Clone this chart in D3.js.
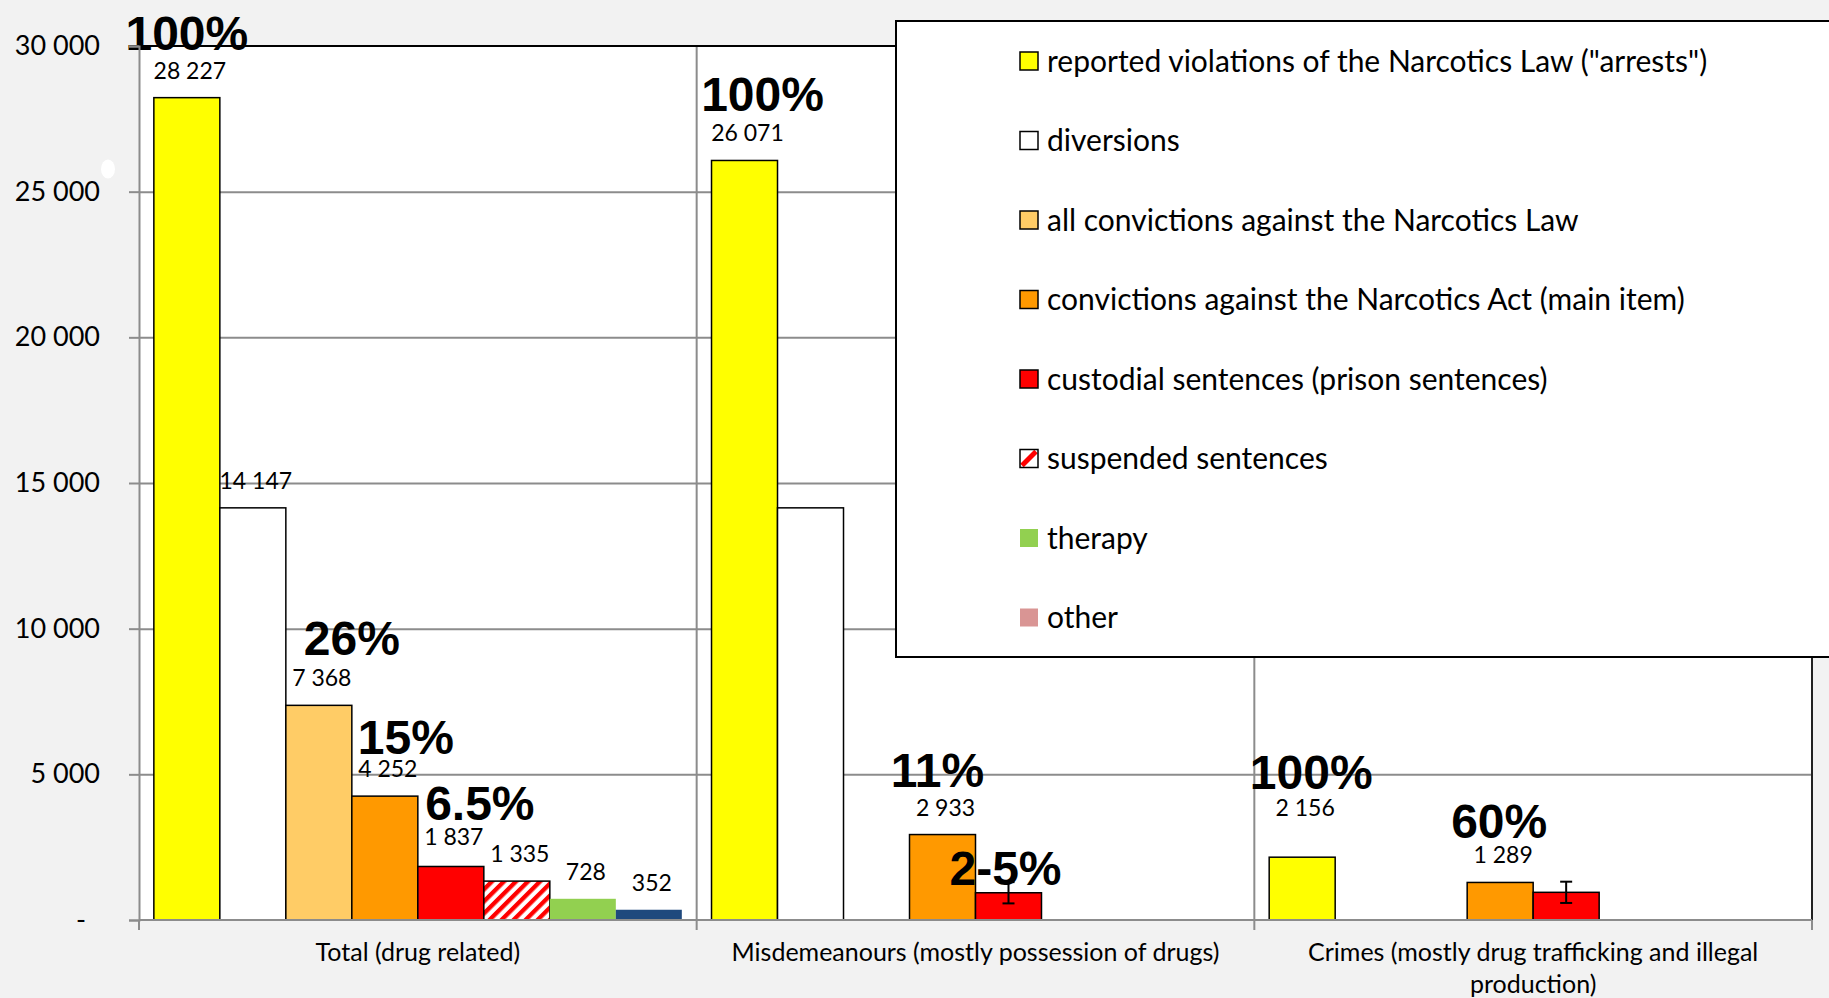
<!DOCTYPE html>
<html>
<head>
<meta charset="utf-8">
<script src="https://cdn.jsdelivr.net/npm/d3@7"></script>
<style>
  body { margin: 0; background: #f2f2f2; }
  svg { display: block; }
  text { font-family: Lato, "Open Sans", sans-serif; fill: #000; }
  .pct { font-family: "Liberation Sans", Arial, sans-serif; font-weight: bold; }
</style>
</head>
<body>
<svg id="chart" width="1829" height="998"></svg>
<script>
// data
const categories = [
  'Total (drug related)',
  'Misdemeanours (mostly possession of drugs)',
  'Crimes (mostly drug trafficking and illegal production)'
]
const seriesNames = [
  'reported violations of the Narcotics Law ("arrests")',
  'diversions',
  'all convictions against the Narcotics Law',
  'convictions against the Narcotics Act (main item)',
  'custodial sentences (prison sentences)',
  'suspended sentences',
  'therapy',
  'other'
]
const arrests = [28227, 26071, 2156]
const diversions = [14147, 14147, null]
const allConvictions = [7368, null, null]
const mainConvictions = [4252, 2933, 1289]
const custodial = [1837, 935, 950]
const suspended = [1335, null, null]
const therapy = [728, null, null]
const other = [352, null, null]
const custodialError = [null, 365, 365]
// bars without a number on top: category-series
const hiddenLabels = ['1-1', '1-4', '2-4']
const pctCats = [0, 0, 0, 0, 1, 1, 1, 2, 2]
const pctSeries = [0, 2, 3, 4, 0, 3, 4, 0, 3]
const pctTexts = ['100%', '26%', '15%', '6.5%', '100%', '11%', '2-5%', '100%', '60%']
const yTicks = [0, 5000, 10000, 15000, 20000, 25000, 30000]

const seriesValues = [arrests, diversions, allConvictions, mainConvictions, custodial, suspended, therapy, other]

// layout
const plotLeft = 139
const plotRight = 1812
const plotTop = 46
const plotBottom = 920
const barColors = ['#ffff00', '#ffffff', '#ffcc66', '#ff9900', '#ff0000', 'url(#hatch)', '#92d050', '#1f497d']
const legendColors = ['#ffff00', '#ffffff', '#ffcc66', '#ff9900', '#ff0000', '#ffffff', '#92d050', '#d99594']
const outlined = [true, true, true, true, true, true, false, false]
// hand placed percent labels: [dx from bar centre, height above bar top]
const pctNudge = [[0, 48], [33, 50], [21, 42], [29, 46], [18, 49], [-5, 48], [-3, 8], [9, 68], [-1, 44]]
// value labels moved higher than the usual 19px
const labelLift = { '2-0': 41, '0-4': 21 }
const grid = '#8c8c8c'

const svg = d3.select('#chart')

const defs = svg.append('defs')
const hatch = defs.append('pattern')
  .attr('id', 'hatch')
  .attr('patternUnits', 'userSpaceOnUse')
  .attr('width', 8.5)
  .attr('height', 8.5)
  .attr('patternTransform', 'rotate(45)')
hatch.append('rect').attr('width', 8.5).attr('height', 8.5).attr('fill', '#fff')
hatch.append('rect').attr('width', 4.3).attr('height', 8.5).attr('fill', '#ff0000')

const x0 = d3.scaleBand().domain(categories).range([plotLeft, plotRight])
const x1 = d3.scaleBand().domain(d3.range(seriesNames.length))
  .range([0, x0.bandwidth()]).paddingOuter(0.225)
const y = d3.scaleLinear().domain([0, 30000]).range([plotBottom, plotTop])

// plot area
svg.append('rect')
  .attr('x', plotLeft).attr('y', plotTop)
  .attr('width', plotRight - plotLeft).attr('height', plotBottom - plotTop)
  .attr('fill', '#fff')

const fmt = d => d === 0 ? '-' : d3.format(',')(d).replace(/,/g, ' ')

svg.append('g')
  .attr('transform', `translate(${plotLeft},0)`)
  .call(d3.axisLeft(y).tickValues(yTicks.slice(1, -1)).tickSize(-(plotRight - plotLeft)).tickFormat(''))
  .call(g => g.select('.domain').remove())
  .call(g => g.selectAll('line').attr('stroke', grid).attr('stroke-width', 2))

// vertical lines between categories
svg.append('g').selectAll('line')
  .data(categories.slice(1))
  .join('line')
  .attr('x1', d => x0(d)).attr('x2', d => x0(d))
  .attr('y1', plotTop).attr('y2', plotBottom + 10)
  .attr('stroke', grid).attr('stroke-width', 2)

// border of plot area
svg.append('line').attr('x1', plotLeft).attr('x2', plotRight).attr('y1', plotTop).attr('y2', plotTop)
  .attr('stroke', '#000').attr('stroke-width', 2)
svg.append('line').attr('x1', plotRight).attr('x2', plotRight).attr('y1', plotTop).attr('y2', plotBottom)
  .attr('stroke', '#222').attr('stroke-width', 2)

// white blot left of the axis
svg.append('ellipse').attr('cx', 108).attr('cy', 169).attr('rx', 7).attr('ry', 9.5).attr('fill', '#fff')

// bars
const bars = []
seriesValues.forEach((vals, s) => {
  vals.forEach((v, c) => {
    if (v !== null) bars.push({ s, c, v })
  })
})
const barX = d => x0(categories[d.c]) + x1(d.s)

svg.append('g').selectAll('rect')
  .data(bars)
  .join('rect')
  .attr('x', barX)
  .attr('y', d => y(d.v))
  .attr('width', x1.bandwidth())
  .attr('height', d => y(0) - y(d.v))
  .attr('fill', d => barColors[d.s])
  .attr('stroke', d => outlined[d.s] ? '#000' : 'none')
  .attr('stroke-width', 1.5)

// error bars on custodial sentences
const errs = custodialError.map((e, c) => ({ e, c, v: custodial[c] })).filter(d => d.e !== null)
const errG = svg.append('g').attr('stroke', '#000').attr('stroke-width', 2)
errs.forEach(d => {
  const cx = x0(categories[d.c]) + x1(4) + x1.bandwidth() / 2
  const y1 = y(d.v + d.e)
  const y2 = y(d.v - d.e)
  errG.append('line').attr('x1', cx).attr('x2', cx).attr('y1', y1).attr('y2', y2)
  errG.append('line').attr('x1', cx - 6).attr('x2', cx + 6).attr('y1', y1).attr('y2', y1)
  errG.append('line').attr('x1', cx - 6).attr('x2', cx + 6).attr('y1', y2).attr('y2', y2)
})

// value labels
svg.append('g').selectAll('text')
  .data(bars.filter(d => !hiddenLabels.includes(`${d.c}-${d.s}`)))
  .join('text')
  .attr('x', d => barX(d) + x1.bandwidth() / 2 + 3)
  .attr('y', d => y(d.v) - (labelLift[`${d.c}-${d.s}`] || 19))
  .attr('text-anchor', 'middle')
  .style('font-size', '23px')
  .text(d => fmt(d.v))

// percent annotations
svg.append('g').selectAll('text')
  .data(pctTexts)
  .join('text')
  .attr('class', 'pct')
  .attr('x', (t, i) => x0(categories[pctCats[i]]) + x1(pctSeries[i]) + x1.bandwidth() / 2 + pctNudge[i][0])
  .attr('y', (t, i) => y(seriesValues[pctSeries[i]][pctCats[i]]) - pctNudge[i][1])
  .attr('text-anchor', 'middle')
  .style('font-size', '48px')
  .text(t => t)

// y axis
svg.append('g')
  .attr('transform', `translate(${plotLeft},0)`)
  .call(d3.axisLeft(y).tickValues(yTicks).tickSize(10).tickPadding(29).tickFormat(fmt))
  .call(g => g.select('.domain').attr('stroke', grid).attr('stroke-width', 2))
  .call(g => g.selectAll('line').attr('stroke', grid).attr('stroke-width', 2))
  .call(g => g.selectAll('text').style('font-size', '27px').attr('fill', '#000').attr('font-family', null))
  .call(g => g.selectAll('.tick').filter(d => d === 0).select('text').attr('dx', -14))

// x axis
svg.append('line').attr('x1', plotLeft).attr('x2', plotRight).attr('y1', plotBottom).attr('y2', plotBottom)
  .attr('stroke', grid).attr('stroke-width', 2)
svg.append('g').selectAll('line')
  .data([plotLeft, plotRight])
  .join('line')
  .attr('x1', d => d).attr('x2', d => d)
  .attr('y1', plotBottom).attr('y2', plotBottom + 10)
  .attr('stroke', grid).attr('stroke-width', 2)

const catLabels = svg.append('g').selectAll('text')
  .data(categories)
  .join('text')
  .attr('x', d => x0(d) + x0.bandwidth() / 2)
  .attr('y', 961)
  .attr('text-anchor', 'middle')
  .style('font-size', '25px')

catLabels.each(function (d) {
  const el = d3.select(this)
  const words = d.split(' ')
  let line = []
  let tspan = el.append('tspan').attr('x', el.attr('x')).attr('dy', 0)
  words.forEach(w => {
    line.push(w)
    tspan.text(line.join(' '))
    if (tspan.node().getComputedTextLength() > 530 && line.length > 1) {
      line.pop()
      tspan.text(line.join(' '))
      line = [w]
      tspan = el.append('tspan').attr('x', el.attr('x')).attr('dy', 32).text(w)
    }
  })
})

// legend
const legend = svg.append('g')
legend.append('rect')
  .attr('x', 896).attr('y', 21)
  .attr('width', 960).attr('height', 636)
  .attr('fill', '#fff').attr('stroke', '#000').attr('stroke-width', 2)

const items = legend.selectAll('g.item')
  .data(seriesNames)
  .join('g')
  .attr('class', 'item')
  .attr('transform', (d, i) => `translate(1020,${61 + i * 79.5})`)

items.append('rect')
  .attr('x', 0).attr('y', -9)
  .attr('width', 18).attr('height', 18)
  .attr('fill', (d, i) => legendColors[i])
items.filter((d, i) => i === 5).append('line')
  .attr('x1', 2).attr('y1', 7).attr('x2', 16).attr('y2', -7)
  .attr('stroke', '#ff0000').attr('stroke-width', 5)
items.filter((d, i) => outlined[i]).append('rect')
  .attr('x', 0).attr('y', -9)
  .attr('width', 18).attr('height', 18)
  .attr('fill', 'none').attr('stroke', '#000').attr('stroke-width', 1.5)

items.append('text')
  .attr('x', 27)
  .attr('dy', '0.35em')
  .style('font-size', '30px')
  .text(d => d)
</script>
</body>
</html>
